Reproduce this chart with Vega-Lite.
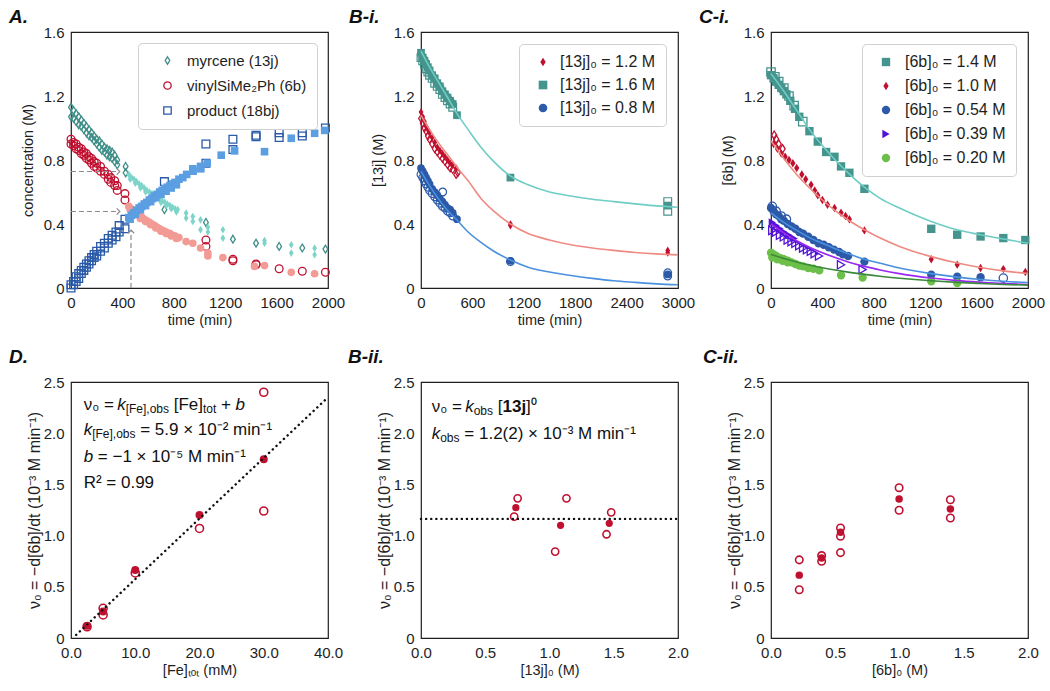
{
"$schema": "https://vega.github.io/schema/vega-lite/v6.json",
"background": "white",
"padding": {"left": 8, "top": 7, "right": 2, "bottom": 2},
"config": {
  "font": "Liberation Sans",
  "view": {"stroke": "#1e1e1e", "strokeWidth": 1.2},
  "axis": {"domain": false, "grid": false, "ticks": true, "tickSize": 0, "tickColor": "#1e1e1e", "tickWidth": 1, "labelFont": "Liberation Sans", "labelFontSize": 15, "labelColor": "#1e1e1e", "labelPadding": 7, "labelOverlap": false, "labelFlush": false, "labelBound": false, "titleFont": "Liberation Sans", "titleFontSize": 14.5, "titleFontWeight": "normal", "titleColor": "#1e1e1e", "titlePadding": 3},
  "title": {"font": "Liberation Sans", "fontSize": 19, "fontWeight": "bold", "fontStyle": "italic", "anchor": "start", "frame": "group", "color": "#111111"}
},
"datasets": {
  "aOpen": [
    {"t":0,"c":1.13,"s":"m"},{"t":0,"c":1.07,"s":"m"},{"t":20,"c":1.11,"s":"m"},{"t":20,"c":1.06,"s":"m"},{"t":40,"c":1.09,"s":"m"},{"t":40,"c":1.04,"s":"m"},{"t":60,"c":1.07,"s":"m"},{"t":60,"c":1.02,"s":"m"},{"t":80,"c":1.05,"s":"m"},{"t":80,"c":1.01,"s":"m"},{"t":100,"c":1.03,"s":"m"},{"t":100,"c":0.99,"s":"m"},{"t":120,"c":1.01,"s":"m"},{"t":120,"c":0.97,"s":"m"},{"t":140,"c":0.99,"s":"m"},{"t":140,"c":0.95,"s":"m"},{"t":160,"c":0.97,"s":"m"},{"t":160,"c":0.94,"s":"m"},{"t":180,"c":0.95,"s":"m"},{"t":180,"c":0.92,"s":"m"},{"t":200,"c":0.93,"s":"m"},{"t":200,"c":0.9,"s":"m"},{"t":220,"c":0.92,"s":"m"},{"t":220,"c":0.88,"s":"m"},{"t":240,"c":0.9,"s":"m"},{"t":240,"c":0.86,"s":"m"},{"t":260,"c":0.88,"s":"m"},{"t":260,"c":0.85,"s":"m"},{"t":280,"c":0.87,"s":"m"},{"t":280,"c":0.83,"s":"m"},{"t":300,"c":0.86,"s":"m"},{"t":300,"c":0.82,"s":"m"},{"t":320,"c":0.85,"s":"m"},{"t":320,"c":0.81,"s":"m"},{"t":340,"c":0.83,"s":"m"},{"t":340,"c":0.79,"s":"m"},{"t":360,"c":0.8,"s":"m"},{"t":360,"c":0.77,"s":"m"},{"t":425,"c":0.76,"s":"m"},{"t":425,"c":0.72,"s":"m"},{"t":727,"c":0.49,"s":"m"},{"t":1050,"c":0.41,"s":"m"},{"t":1260,"c":0.305,"s":"m"},{"t":1440,"c":0.28,"s":"m"},{"t":1620,"c":0.26,"s":"m"},{"t":1800,"c":0.25,"s":"m"},{"t":1980,"c":0.243,"s":"m"},
    {"t":0,"c":0.93,"s":"v"},{"t":0,"c":0.9,"s":"v"},{"t":20,"c":0.91,"s":"v"},{"t":20,"c":0.89,"s":"v"},{"t":40,"c":0.9,"s":"v"},{"t":40,"c":0.87,"s":"v"},{"t":60,"c":0.88,"s":"v"},{"t":60,"c":0.86,"s":"v"},{"t":80,"c":0.87,"s":"v"},{"t":80,"c":0.84,"s":"v"},{"t":100,"c":0.85,"s":"v"},{"t":100,"c":0.83,"s":"v"},{"t":120,"c":0.84,"s":"v"},{"t":120,"c":0.81,"s":"v"},{"t":140,"c":0.82,"s":"v"},{"t":140,"c":0.8,"s":"v"},{"t":160,"c":0.81,"s":"v"},{"t":160,"c":0.78,"s":"v"},{"t":180,"c":0.79,"s":"v"},{"t":180,"c":0.76,"s":"v"},{"t":200,"c":0.78,"s":"v"},{"t":200,"c":0.75,"s":"v"},{"t":230,"c":0.76,"s":"v"},{"t":230,"c":0.73,"s":"v"},{"t":260,"c":0.73,"s":"v"},{"t":260,"c":0.71,"s":"v"},{"t":290,"c":0.71,"s":"v"},{"t":290,"c":0.68,"s":"v"},{"t":310,"c":0.69,"s":"v"},{"t":310,"c":0.66,"s":"v"},{"t":340,"c":0.67,"s":"v"},{"t":340,"c":0.64,"s":"v"},{"t":360,"c":0.64,"s":"v"},{"t":360,"c":0.61,"s":"v"},{"t":420,"c":0.59,"s":"v"},{"t":420,"c":0.55,"s":"v"},{"t":1050,"c":0.3,"s":"v"},{"t":1050,"c":0.26,"s":"v"},{"t":1260,"c":0.18,"s":"v"},{"t":1260,"c":0.17,"s":"v"},{"t":1440,"c":0.15,"s":"v"},{"t":1440,"c":0.145,"s":"v"},{"t":1620,"c":0.12,"s":"v"},{"t":1800,"c":0.105,"s":"v"},{"t":1980,"c":0.098,"s":"v"},
    {"t":0,"c":0.02,"s":"p"},{"t":0,"c":0.0,"s":"p"},{"t":20,"c":0.04,"s":"p"},{"t":20,"c":0.02,"s":"p"},{"t":40,"c":0.07,"s":"p"},{"t":40,"c":0.04,"s":"p"},{"t":60,"c":0.09,"s":"p"},{"t":60,"c":0.06,"s":"p"},{"t":80,"c":0.11,"s":"p"},{"t":80,"c":0.09,"s":"p"},{"t":100,"c":0.13,"s":"p"},{"t":100,"c":0.11,"s":"p"},{"t":120,"c":0.15,"s":"p"},{"t":120,"c":0.13,"s":"p"},{"t":140,"c":0.17,"s":"p"},{"t":140,"c":0.15,"s":"p"},{"t":160,"c":0.19,"s":"p"},{"t":160,"c":0.17,"s":"p"},{"t":180,"c":0.21,"s":"p"},{"t":180,"c":0.19,"s":"p"},{"t":200,"c":0.23,"s":"p"},{"t":200,"c":0.2,"s":"p"},{"t":230,"c":0.26,"s":"p"},{"t":230,"c":0.23,"s":"p"},{"t":260,"c":0.28,"s":"p"},{"t":260,"c":0.25,"s":"p"},{"t":290,"c":0.31,"s":"p"},{"t":290,"c":0.28,"s":"p"},{"t":320,"c":0.33,"s":"p"},{"t":320,"c":0.3,"s":"p"},{"t":350,"c":0.35,"s":"p"},{"t":350,"c":0.32,"s":"p"},{"t":375,"c":0.39,"s":"p"},{"t":375,"c":0.35,"s":"p"},{"t":420,"c":0.43,"s":"p"},{"t":420,"c":0.37,"s":"p"},{"t":727,"c":0.665,"s":"p"},{"t":1050,"c":0.9,"s":"p"},{"t":1050,"c":0.78,"s":"p"},{"t":1260,"c":0.93,"s":"p"},{"t":1260,"c":0.865,"s":"p"},{"t":1440,"c":0.955,"s":"p"},{"t":1440,"c":0.945,"s":"p"},{"t":1620,"c":0.97,"s":"p"},{"t":1620,"c":0.94,"s":"p"},{"t":1800,"c":0.97,"s":"p"},{"t":1800,"c":0.95,"s":"p"},{"t":1980,"c":1.0,"s":"p"}
  ],
  "aFill": [
    {"t":450,"c":0.71,"s":"m"},{"t":470,"c":0.69,"s":"m"},{"t":490,"c":0.68,"s":"m"},{"t":510,"c":0.665,"s":"m"},{"t":530,"c":0.65,"s":"m"},{"t":550,"c":0.64,"s":"m"},{"t":570,"c":0.625,"s":"m"},{"t":590,"c":0.61,"s":"m"},{"t":610,"c":0.6,"s":"m"},{"t":630,"c":0.59,"s":"m"},{"t":650,"c":0.575,"s":"m"},{"t":670,"c":0.565,"s":"m"},{"t":690,"c":0.555,"s":"m"},{"t":710,"c":0.545,"s":"m"},{"t":730,"c":0.535,"s":"m"},{"t":750,"c":0.525,"s":"m"},{"t":770,"c":0.515,"s":"m"},{"t":790,"c":0.505,"s":"m"},{"t":810,"c":0.495,"s":"m"},{"t":830,"c":0.49,"s":"m"},{"t":460,"c":0.68,"s":"m"},{"t":500,"c":0.655,"s":"m"},{"t":540,"c":0.625,"s":"m"},{"t":580,"c":0.6,"s":"m"},{"t":620,"c":0.575,"s":"m"},{"t":660,"c":0.555,"s":"m"},{"t":700,"c":0.535,"s":"m"},{"t":740,"c":0.515,"s":"m"},{"t":780,"c":0.495,"s":"m"},{"t":820,"c":0.475,"s":"m"},{"t":896,"c":0.468,"s":"m"},{"t":896,"c":0.437,"s":"m"},{"t":948,"c":0.447,"s":"m"},{"t":948,"c":0.416,"s":"m"},{"t":1008,"c":0.426,"s":"m"},{"t":1008,"c":0.364,"s":"m"},{"t":1065,"c":0.38,"s":"m"},{"t":1065,"c":0.35,"s":"m"},{"t":1182,"c":0.364,"s":"m"},{"t":1182,"c":0.312,"s":"m"},{"t":1506,"c":0.297,"s":"m"},{"t":1506,"c":0.28,"s":"m"},{"t":1714,"c":0.27,"s":"m"},{"t":1714,"c":0.218,"s":"m"},{"t":1896,"c":0.249,"s":"m"},{"t":1896,"c":0.208,"s":"m"},
    {"t":450,"c":0.51,"s":"v"},{"t":470,"c":0.495,"s":"v"},{"t":490,"c":0.48,"s":"v"},{"t":510,"c":0.465,"s":"v"},{"t":530,"c":0.455,"s":"v"},{"t":550,"c":0.445,"s":"v"},{"t":570,"c":0.43,"s":"v"},{"t":590,"c":0.42,"s":"v"},{"t":610,"c":0.41,"s":"v"},{"t":630,"c":0.4,"s":"v"},{"t":650,"c":0.39,"s":"v"},{"t":670,"c":0.38,"s":"v"},{"t":690,"c":0.37,"s":"v"},{"t":710,"c":0.36,"s":"v"},{"t":730,"c":0.355,"s":"v"},{"t":750,"c":0.345,"s":"v"},{"t":770,"c":0.34,"s":"v"},{"t":790,"c":0.33,"s":"v"},{"t":810,"c":0.325,"s":"v"},{"t":840,"c":0.315,"s":"v"},{"t":460,"c":0.49,"s":"v"},{"t":500,"c":0.46,"s":"v"},{"t":540,"c":0.435,"s":"v"},{"t":580,"c":0.415,"s":"v"},{"t":620,"c":0.395,"s":"v"},{"t":660,"c":0.375,"s":"v"},{"t":700,"c":0.355,"s":"v"},{"t":740,"c":0.34,"s":"v"},{"t":780,"c":0.325,"s":"v"},{"t":820,"c":0.31,"s":"v"},{"t":896,"c":0.29,"s":"v"},{"t":948,"c":0.28,"s":"v"},{"t":1008,"c":0.25,"s":"v"},{"t":1065,"c":0.218,"s":"v"},{"t":1065,"c":0.2,"s":"v"},{"t":1182,"c":0.19,"s":"v"},{"t":1428,"c":0.135,"s":"v"},{"t":1506,"c":0.14,"s":"v"},{"t":1714,"c":0.098,"s":"v"},{"t":1896,"c":0.089,"s":"v"},
    {"t":450,"c":0.44,"s":"p"},{"t":470,"c":0.455,"s":"p"},{"t":490,"c":0.47,"s":"p"},{"t":510,"c":0.485,"s":"p"},{"t":530,"c":0.5,"s":"p"},{"t":550,"c":0.51,"s":"p"},{"t":570,"c":0.525,"s":"p"},{"t":590,"c":0.535,"s":"p"},{"t":610,"c":0.55,"s":"p"},{"t":630,"c":0.56,"s":"p"},{"t":650,"c":0.575,"s":"p"},{"t":670,"c":0.585,"s":"p"},{"t":690,"c":0.6,"s":"p"},{"t":710,"c":0.61,"s":"p"},{"t":730,"c":0.62,"s":"p"},{"t":750,"c":0.63,"s":"p"},{"t":770,"c":0.64,"s":"p"},{"t":790,"c":0.65,"s":"p"},{"t":810,"c":0.66,"s":"p"},{"t":840,"c":0.68,"s":"p"},{"t":870,"c":0.69,"s":"p"},{"t":900,"c":0.71,"s":"p"},{"t":948,"c":0.745,"s":"p"},{"t":1008,"c":0.76,"s":"p"},{"t":1060,"c":0.78,"s":"p"},{"t":1169,"c":0.83,"s":"p"},{"t":1273,"c":0.857,"s":"p"},{"t":1506,"c":0.852,"s":"p"},{"t":1714,"c":0.936,"s":"p"},{"t":1896,"c":0.967,"s":"p"},{"t":1975,"c":0.985,"s":"p"},{"t":460,"c":0.43,"s":"p"},{"t":500,"c":0.46,"s":"p"},{"t":540,"c":0.49,"s":"p"},{"t":580,"c":0.515,"s":"p"},{"t":620,"c":0.54,"s":"p"},{"t":660,"c":0.565,"s":"p"},{"t":700,"c":0.585,"s":"p"},{"t":740,"c":0.605,"s":"p"},{"t":780,"c":0.625,"s":"p"},{"t":820,"c":0.645,"s":"p"},{"t":950,"c":0.73,"s":"p"},{"t":1010,"c":0.745,"s":"p"}
  ],
  "arrows": [
    {"x":0,"x2":380,"y":0.728,"y2":0.728},
    {"x":0,"x2":380,"y":0.478,"y2":0.478},
    {"x":467,"x2":467,"y":0,"y2":0.362}
  ],
  "biFill": [
    {"t":0,"c":1.47,"s":"1.6"},{"t":20,"c":1.44,"s":"1.6"},{"t":40,"c":1.42,"s":"1.6"},{"t":60,"c":1.4,"s":"1.6"},{"t":80,"c":1.38,"s":"1.6"},{"t":100,"c":1.36,"s":"1.6"},{"t":130,"c":1.33,"s":"1.6"},{"t":160,"c":1.31,"s":"1.6"},{"t":190,"c":1.28,"s":"1.6"},{"t":220,"c":1.26,"s":"1.6"},{"t":250,"c":1.23,"s":"1.6"},{"t":280,"c":1.21,"s":"1.6"},{"t":310,"c":1.19,"s":"1.6"},{"t":340,"c":1.17,"s":"1.6"},{"t":370,"c":1.15,"s":"1.6"},{"t":420,"c":1.08,"s":"1.6"},{"t":1044,"c":0.69,"s":"1.6"},{"t":2880,"c":0.515,"s":"1.6"},
    {"t":0,"c":1.1,"s":"1.2"},{"t":20,"c":1.07,"s":"1.2"},{"t":40,"c":1.04,"s":"1.2"},{"t":60,"c":1.01,"s":"1.2"},{"t":80,"c":0.99,"s":"1.2"},{"t":100,"c":0.97,"s":"1.2"},{"t":130,"c":0.94,"s":"1.2"},{"t":160,"c":0.91,"s":"1.2"},{"t":190,"c":0.88,"s":"1.2"},{"t":220,"c":0.86,"s":"1.2"},{"t":250,"c":0.84,"s":"1.2"},{"t":280,"c":0.82,"s":"1.2"},{"t":310,"c":0.8,"s":"1.2"},{"t":340,"c":0.78,"s":"1.2"},{"t":370,"c":0.77,"s":"1.2"},{"t":410,"c":0.75,"s":"1.2"},{"t":1044,"c":0.4,"s":"1.2"},{"t":1044,"c":0.39,"s":"1.2"},{"t":2880,"c":0.235,"s":"1.2"},{"t":2880,"c":0.22,"s":"1.2"},
    {"t":0,"c":0.75,"s":"0.8"},{"t":20,"c":0.73,"s":"0.8"},{"t":40,"c":0.71,"s":"0.8"},{"t":60,"c":0.69,"s":"0.8"},{"t":80,"c":0.67,"s":"0.8"},{"t":100,"c":0.65,"s":"0.8"},{"t":130,"c":0.62,"s":"0.8"},{"t":160,"c":0.6,"s":"0.8"},{"t":190,"c":0.58,"s":"0.8"},{"t":220,"c":0.56,"s":"0.8"},{"t":250,"c":0.54,"s":"0.8"},{"t":280,"c":0.52,"s":"0.8"},{"t":310,"c":0.5,"s":"0.8"},{"t":340,"c":0.49,"s":"0.8"},{"t":370,"c":0.47,"s":"0.8"},{"t":420,"c":0.43,"s":"0.8"},{"t":1044,"c":0.17,"s":"0.8"},{"t":2880,"c":0.085,"s":"0.8"}
  ],
  "biOpen": [
    {"t":0,"c":1.44,"s":"1.6"},{"t":20,"c":1.42,"s":"1.6"},{"t":40,"c":1.4,"s":"1.6"},{"t":60,"c":1.37,"s":"1.6"},{"t":80,"c":1.35,"s":"1.6"},{"t":100,"c":1.33,"s":"1.6"},{"t":130,"c":1.31,"s":"1.6"},{"t":160,"c":1.28,"s":"1.6"},{"t":190,"c":1.26,"s":"1.6"},{"t":220,"c":1.24,"s":"1.6"},{"t":250,"c":1.21,"s":"1.6"},{"t":280,"c":1.19,"s":"1.6"},{"t":310,"c":1.17,"s":"1.6"},{"t":340,"c":1.15,"s":"1.6"},{"t":370,"c":1.13,"s":"1.6"},{"t":2880,"c":0.54,"s":"1.6"},{"t":2880,"c":0.48,"s":"1.6"},
    {"t":0,"c":1.06,"s":"1.2"},{"t":20,"c":1.03,"s":"1.2"},{"t":40,"c":1.0,"s":"1.2"},{"t":60,"c":0.98,"s":"1.2"},{"t":80,"c":0.95,"s":"1.2"},{"t":100,"c":0.93,"s":"1.2"},{"t":130,"c":0.9,"s":"1.2"},{"t":160,"c":0.87,"s":"1.2"},{"t":190,"c":0.85,"s":"1.2"},{"t":220,"c":0.83,"s":"1.2"},{"t":250,"c":0.81,"s":"1.2"},{"t":280,"c":0.79,"s":"1.2"},{"t":310,"c":0.77,"s":"1.2"},{"t":340,"c":0.75,"s":"1.2"},{"t":370,"c":0.74,"s":"1.2"},{"t":410,"c":0.71,"s":"1.2"},{"t":430,"c":0.72,"s":"1.2"},
    {"t":0,"c":0.71,"s":"0.8"},{"t":20,"c":0.69,"s":"0.8"},{"t":40,"c":0.67,"s":"0.8"},{"t":60,"c":0.65,"s":"0.8"},{"t":80,"c":0.63,"s":"0.8"},{"t":100,"c":0.61,"s":"0.8"},{"t":130,"c":0.59,"s":"0.8"},{"t":160,"c":0.57,"s":"0.8"},{"t":190,"c":0.55,"s":"0.8"},{"t":220,"c":0.53,"s":"0.8"},{"t":250,"c":0.51,"s":"0.8"},{"t":253,"c":0.6,"s":"0.8"},{"t":280,"c":0.5,"s":"0.8"},{"t":310,"c":0.48,"s":"0.8"},{"t":340,"c":0.47,"s":"0.8"},{"t":370,"c":0.45,"s":"0.8"},{"t":1044,"c":0.165,"s":"0.8"},{"t":2880,"c":0.095,"s":"0.8"},{"t":2880,"c":0.075,"s":"0.8"}
  ],
  "biFit": [
    {"t":0,"c":1.48,"s":"1.6"},{"t":100,"c":1.38,"s":"1.6"},{"t":200,"c":1.29,"s":"1.6"},{"t":300,"c":1.2,"s":"1.6"},{"t":420,"c":1.09,"s":"1.6"},{"t":550,"c":0.99,"s":"1.6"},{"t":700,"c":0.88,"s":"1.6"},{"t":850,"c":0.79,"s":"1.6"},{"t":1044,"c":0.7,"s":"1.6"},{"t":1250,"c":0.645,"s":"1.6"},{"t":1500,"c":0.6,"s":"1.6"},{"t":1750,"c":0.575,"s":"1.6"},{"t":2000,"c":0.555,"s":"1.6"},{"t":2250,"c":0.54,"s":"1.6"},{"t":2500,"c":0.526,"s":"1.6"},{"t":2750,"c":0.513,"s":"1.6"},{"t":3000,"c":0.505,"s":"1.6"},
    {"t":0,"c":1.08,"s":"1.2"},{"t":100,"c":0.99,"s":"1.2"},{"t":200,"c":0.91,"s":"1.2"},{"t":300,"c":0.84,"s":"1.2"},{"t":420,"c":0.755,"s":"1.2"},{"t":550,"c":0.67,"s":"1.2"},{"t":700,"c":0.56,"s":"1.2"},{"t":850,"c":0.48,"s":"1.2"},{"t":1044,"c":0.4,"s":"1.2"},{"t":1250,"c":0.34,"s":"1.2"},{"t":1500,"c":0.3,"s":"1.2"},{"t":1750,"c":0.27,"s":"1.2"},{"t":2000,"c":0.25,"s":"1.2"},{"t":2250,"c":0.235,"s":"1.2"},{"t":2500,"c":0.222,"s":"1.2"},{"t":2750,"c":0.213,"s":"1.2"},{"t":3000,"c":0.207,"s":"1.2"},
    {"t":0,"c":0.73,"s":"0.8"},{"t":100,"c":0.64,"s":"0.8"},{"t":200,"c":0.56,"s":"0.8"},{"t":300,"c":0.49,"s":"0.8"},{"t":420,"c":0.425,"s":"0.8"},{"t":550,"c":0.35,"s":"0.8"},{"t":700,"c":0.285,"s":"0.8"},{"t":850,"c":0.23,"s":"0.8"},{"t":1044,"c":0.175,"s":"0.8"},{"t":1250,"c":0.13,"s":"0.8"},{"t":1500,"c":0.1,"s":"0.8"},{"t":1750,"c":0.078,"s":"0.8"},{"t":2000,"c":0.06,"s":"0.8"},{"t":2250,"c":0.045,"s":"0.8"},{"t":2500,"c":0.035,"s":"0.8"},{"t":2750,"c":0.026,"s":"0.8"},{"t":3000,"c":0.02,"s":"0.8"}
  ],
  "ciFill": [
    {"t":0,"c":1.33,"s":"1.4"},{"t":20,"c":1.31,"s":"1.4"},{"t":40,"c":1.29,"s":"1.4"},{"t":60,"c":1.27,"s":"1.4"},{"t":80,"c":1.25,"s":"1.4"},{"t":100,"c":1.23,"s":"1.4"},{"t":120,"c":1.21,"s":"1.4"},{"t":150,"c":1.17,"s":"1.4"},{"t":187,"c":1.12,"s":"1.4"},{"t":220,"c":1.07,"s":"1.4"},{"t":299,"c":0.98,"s":"1.4"},{"t":364,"c":0.915,"s":"1.4"},{"t":429,"c":0.85,"s":"1.4"},{"t":494,"c":0.82,"s":"1.4"},{"t":545,"c":0.76,"s":"1.4"},{"t":610,"c":0.72,"s":"1.4"},{"t":727,"c":0.62,"s":"1.4"},{"t":1247,"c":0.37,"s":"1.4"},{"t":1449,"c":0.333,"s":"1.4"},{"t":1631,"c":0.322,"s":"1.4"},{"t":1808,"c":0.312,"s":"1.4"},{"t":1979,"c":0.3,"s":"1.4"},
    {"t":20,"c":0.9,"s":"1.0"},{"t":50,"c":0.87,"s":"1.0"},{"t":80,"c":0.84,"s":"1.0"},{"t":110,"c":0.82,"s":"1.0"},{"t":140,"c":0.8,"s":"1.0"},{"t":170,"c":0.78,"s":"1.0"},{"t":200,"c":0.75,"s":"1.0"},{"t":240,"c":0.71,"s":"1.0"},{"t":270,"c":0.68,"s":"1.0"},{"t":312,"c":0.645,"s":"1.0"},{"t":340,"c":0.61,"s":"1.0"},{"t":364,"c":0.58,"s":"1.0"},{"t":400,"c":0.55,"s":"1.0"},{"t":440,"c":0.52,"s":"1.0"},{"t":494,"c":0.5,"s":"1.0"},{"t":545,"c":0.47,"s":"1.0"},{"t":580,"c":0.45,"s":"1.0"},{"t":610,"c":0.43,"s":"1.0"},{"t":727,"c":0.36,"s":"1.0"},{"t":1247,"c":0.18,"s":"1.0"},{"t":1449,"c":0.146,"s":"1.0"},{"t":1631,"c":0.125,"s":"1.0"},{"t":1808,"c":0.118,"s":"1.0"},{"t":1979,"c":0.1,"s":"1.0"},
    {"t":0,"c":0.5,"s":"0.54"},{"t":20,"c":0.48,"s":"0.54"},{"t":40,"c":0.46,"s":"0.54"},{"t":60,"c":0.45,"s":"0.54"},{"t":80,"c":0.43,"s":"0.54"},{"t":100,"c":0.42,"s":"0.54"},{"t":130,"c":0.4,"s":"0.54"},{"t":160,"c":0.385,"s":"0.54"},{"t":190,"c":0.37,"s":"0.54"},{"t":220,"c":0.35,"s":"0.54"},{"t":250,"c":0.34,"s":"0.54"},{"t":290,"c":0.32,"s":"0.54"},{"t":330,"c":0.3,"s":"0.54"},{"t":370,"c":0.28,"s":"0.54"},{"t":410,"c":0.27,"s":"0.54"},{"t":450,"c":0.255,"s":"0.54"},{"t":490,"c":0.24,"s":"0.54"},{"t":530,"c":0.225,"s":"0.54"},{"t":560,"c":0.21,"s":"0.54"},{"t":600,"c":0.2,"s":"0.54"},{"t":727,"c":0.165,"s":"0.54"},{"t":1247,"c":0.083,"s":"0.54"},{"t":1449,"c":0.07,"s":"0.54"},{"t":1631,"c":0.067,"s":"0.54"},
    {"t":10,"c":0.41,"s":"0.39"},{"t":40,"c":0.39,"s":"0.39"},{"t":70,"c":0.37,"s":"0.39"},{"t":100,"c":0.35,"s":"0.39"},{"t":140,"c":0.33,"s":"0.39"},{"t":180,"c":0.31,"s":"0.39"},
    {"t":0,"c":0.22,"s":"0.20"},{"t":20,"c":0.21,"s":"0.20"},{"t":40,"c":0.2,"s":"0.20"},{"t":60,"c":0.19,"s":"0.20"},{"t":80,"c":0.185,"s":"0.20"},{"t":100,"c":0.18,"s":"0.20"},{"t":130,"c":0.17,"s":"0.20"},{"t":160,"c":0.16,"s":"0.20"},{"t":190,"c":0.15,"s":"0.20"},{"t":220,"c":0.14,"s":"0.20"},{"t":250,"c":0.135,"s":"0.20"},{"t":290,"c":0.125,"s":"0.20"},{"t":330,"c":0.12,"s":"0.20"},{"t":376,"c":0.11,"s":"0.20"},{"t":545,"c":0.08,"s":"0.20"},{"t":713,"c":0.065,"s":"0.20"},{"t":1247,"c":0.042,"s":"0.20"},{"t":1449,"c":0.031,"s":"0.20"},{"t":10,"c":0.19,"s":"0.20"},{"t":50,"c":0.18,"s":"0.20"},{"t":90,"c":0.17,"s":"0.20"},{"t":130,"c":0.16,"s":"0.20"}
  ],
  "ciOpen": [
    {"t":0,"c":1.35,"s":"1.4"},{"t":30,"c":1.32,"s":"1.4"},{"t":60,"c":1.29,"s":"1.4"},{"t":100,"c":1.25,"s":"1.4"},{"t":140,"c":1.2,"s":"1.4"},{"t":180,"c":1.14,"s":"1.4"},{"t":247,"c":1.04,"s":"1.4"},
    {"t":25,"c":0.955,"s":"1.0"},{"t":40,"c":0.93,"s":"1.0"},{"t":60,"c":0.9,"s":"1.0"},{"t":90,"c":0.87,"s":"1.0"},
    {"t":10,"c":0.51,"s":"0.54"},{"t":40,"c":0.48,"s":"0.54"},{"t":80,"c":0.45,"s":"0.54"},{"t":120,"c":0.43,"s":"0.54"},{"t":1808,"c":0.062,"s":"0.54"},
    {"t":10,"c":0.36,"s":"0.39"},{"t":40,"c":0.35,"s":"0.39"},{"t":70,"c":0.33,"s":"0.39"},{"t":100,"c":0.32,"s":"0.39"},{"t":130,"c":0.3,"s":"0.39"},{"t":160,"c":0.29,"s":"0.39"},{"t":190,"c":0.28,"s":"0.39"},{"t":220,"c":0.265,"s":"0.39"},{"t":250,"c":0.25,"s":"0.39"},{"t":280,"c":0.24,"s":"0.39"},{"t":310,"c":0.23,"s":"0.39"},{"t":340,"c":0.215,"s":"0.39"},{"t":374,"c":0.2,"s":"0.39"},{"t":545,"c":0.145,"s":"0.39"},{"t":713,"c":0.115,"s":"0.39"}
  ],
  "ciFit": [
    {"t":0,"c":1.34,"s":"1.4"},{"t":100,"c":1.23,"s":"1.4"},{"t":200,"c":1.11,"s":"1.4"},{"t":300,"c":0.99,"s":"1.4"},{"t":400,"c":0.89,"s":"1.4"},{"t":500,"c":0.8,"s":"1.4"},{"t":600,"c":0.72,"s":"1.4"},{"t":727,"c":0.63,"s":"1.4"},{"t":850,"c":0.56,"s":"1.4"},{"t":1000,"c":0.5,"s":"1.4"},{"t":1247,"c":0.416,"s":"1.4"},{"t":1449,"c":0.364,"s":"1.4"},{"t":1631,"c":0.333,"s":"1.4"},{"t":1808,"c":0.306,"s":"1.4"},{"t":2000,"c":0.28,"s":"1.4"},
    {"t":0,"c":0.92,"s":"1.0"},{"t":100,"c":0.81,"s":"1.0"},{"t":200,"c":0.71,"s":"1.0"},{"t":300,"c":0.625,"s":"1.0"},{"t":400,"c":0.55,"s":"1.0"},{"t":500,"c":0.483,"s":"1.0"},{"t":600,"c":0.425,"s":"1.0"},{"t":727,"c":0.364,"s":"1.0"},{"t":850,"c":0.312,"s":"1.0"},{"t":1000,"c":0.26,"s":"1.0"},{"t":1247,"c":0.196,"s":"1.0"},{"t":1449,"c":0.156,"s":"1.0"},{"t":1631,"c":0.128,"s":"1.0"},{"t":1808,"c":0.107,"s":"1.0"},{"t":2000,"c":0.09,"s":"1.0"},
    {"t":0,"c":0.47,"s":"0.54"},{"t":100,"c":0.41,"s":"0.54"},{"t":200,"c":0.36,"s":"0.54"},{"t":300,"c":0.315,"s":"0.54"},{"t":400,"c":0.28,"s":"0.54"},{"t":500,"c":0.245,"s":"0.54"},{"t":600,"c":0.215,"s":"0.54"},{"t":727,"c":0.18,"s":"0.54"},{"t":850,"c":0.155,"s":"0.54"},{"t":1000,"c":0.125,"s":"0.54"},{"t":1247,"c":0.09,"s":"0.54"},{"t":1449,"c":0.068,"s":"0.54"},{"t":1631,"c":0.053,"s":"0.54"},{"t":1808,"c":0.042,"s":"0.54"},{"t":2000,"c":0.034,"s":"0.54"},
    {"t":0,"c":0.4,"s":"0.39"},{"t":100,"c":0.345,"s":"0.39"},{"t":200,"c":0.295,"s":"0.39"},{"t":300,"c":0.255,"s":"0.39"},{"t":400,"c":0.22,"s":"0.39"},{"t":500,"c":0.19,"s":"0.39"},{"t":600,"c":0.163,"s":"0.39"},{"t":727,"c":0.135,"s":"0.39"},{"t":850,"c":0.113,"s":"0.39"},{"t":1000,"c":0.09,"s":"0.39"},{"t":1247,"c":0.062,"s":"0.39"},{"t":1449,"c":0.046,"s":"0.39"},{"t":1631,"c":0.036,"s":"0.39"},{"t":1808,"c":0.028,"s":"0.39"},{"t":2000,"c":0.022,"s":"0.39"},
    {"t":0,"c":0.21,"s":"0.20"},{"t":100,"c":0.185,"s":"0.20"},{"t":200,"c":0.163,"s":"0.20"},{"t":300,"c":0.144,"s":"0.20"},{"t":400,"c":0.127,"s":"0.20"},{"t":500,"c":0.112,"s":"0.20"},{"t":600,"c":0.099,"s":"0.20"},{"t":727,"c":0.085,"s":"0.20"},{"t":850,"c":0.073,"s":"0.20"},{"t":1000,"c":0.061,"s":"0.20"},{"t":1247,"c":0.045,"s":"0.20"},{"t":1449,"c":0.035,"s":"0.20"},{"t":1631,"c":0.028,"s":"0.20"},{"t":1808,"c":0.022,"s":"0.20"},{"t":2000,"c":0.018,"s":"0.20"}
  ],
  "dFill": [{"x":2.5,"v":0.12},{"x":5,"v":0.26},{"x":10,"v":0.665},{"x":20,"v":1.2},{"x":30,"v":1.745}],
  "dOpen": [{"x":2.5,"v":0.11},{"x":5,"v":0.29},{"x":5,"v":0.225},{"x":10,"v":0.635},{"x":20,"v":1.07},{"x":30,"v":2.4},{"x":30,"v":1.24}],
  "dFit": [{"x":0.8,"x2":40,"v":0.03,"v2":2.35}],
  "dTxt": [{"x":1.97,"v":2.275,"txt":"ν₀ ="},{"x":15.98,"v":2.275,"txt":"[Fe]"},{"x":23.34,"v":2.275,"txt":"+"},{"x":10.76,"v":2.03,"txt":"= 5.9 × 10⁻² min⁻¹"},{"x":4.18,"v":1.77,"txt":"= −1 × 10⁻⁵ M min⁻¹"},{"x":1.97,"v":1.51,"txt":"R² = 0.99"}],
  "dTxtI": [{"x":7.18,"v":2.275,"txt":"k"},{"x":25.61,"v":2.275,"txt":"b"},{"x":1.97,"v":2.03,"txt":"k"},{"x":1.97,"v":1.77,"txt":"b"}],
  "dTxtS": [{"x":8.51,"v":2.235,"txt":"[Fe],obs"},{"x":20.54,"v":2.235,"txt":"tot"},{"x":3.29,"v":1.99,"txt":"[Fe],obs"}],
  "b2Fill": [{"x":0.738,"v":1.273},{"x":1.086,"v":1.1},{"x":1.465,"v":1.12}],
  "b2Open": [{"x":0.752,"v":1.364},{"x":0.725,"v":1.185},{"x":1.044,"v":0.844},{"x":1.132,"v":1.364},{"x":1.48,"v":1.227},{"x":1.444,"v":1.013}],
  "b2Fit": [{"x":0,"x2":2,"v":1.163,"v2":1.163}],
  "b2Txt": [{"x":0.083,"v":2.255,"txt":"ν₀ ="},{"x":0.597,"v":2.255,"txt":"["},{"x":0.818,"v":2.255,"txt":"]⁰"},{"x":0.337,"v":1.996,"txt":"= 1.2(2) × 10⁻³ M min⁻¹"}],
  "b2TxtI": [{"x":0.344,"v":2.255,"txt":"k"},{"x":0.083,"v":1.996,"txt":"k"}],
  "b2TxtS": [{"x":0.41,"v":2.215,"txt":"obs"},{"x":0.149,"v":1.956,"txt":"obs"}],
  "b2TxtB": [{"x":0.634,"v":2.255,"txt":"13j"}],
  "c2Fill": [{"x":0.22,"v":0.614},{"x":0.394,"v":0.782},{"x":0.541,"v":1.032},{"x":0.997,"v":1.357},{"x":1.396,"v":1.26}],
  "c2Open": [{"x":0.22,"v":0.763},{"x":0.22,"v":0.471},{"x":0.394,"v":0.805},{"x":0.394,"v":0.75},{"x":0.541,"v":1.075},{"x":0.541,"v":0.994},{"x":0.541,"v":0.834},{"x":0.997,"v":1.468},{"x":0.997,"v":1.247},{"x":1.396,"v":1.35},{"x":1.396,"v":1.172}]
},
"columns": 3,
"spacing": {"row": 94, "column": 93},
"bounds": "flush",
"resolve": {"scale": {"fill": "independent", "stroke": "independent", "color": "independent", "shape": "independent"}, "legend": {"fill": "independent", "stroke": "independent", "color": "independent", "shape": "independent"}},
"concat": [
   {
    "width": 257, "height": 256,
    "title": {"text": "A.", "dx": -62, "offset": -2},
    "resolve": {"axis": {"x": "independent", "y": "independent"}, "scale": {"shape": "independent", "stroke": "independent", "fill": "independent"}, "legend": {"shape": "independent", "stroke": "independent", "fill": "independent"}},
    "layer": [
     {
      "data": {"name": "aOpen"},
      "mark": {"type": "point", "filled": false, "strokeWidth": 1.3, "size": 60, "opacity": 1},
      "encoding": {
       "x": {"field": "t", "type": "quantitative", "scale": {"domain": [0, 2000], "nice": false},
             "axis": {"orient": "bottom", "title": "time (min)", "values": [0,100,200,300,400,500,600,700,800,900,1000,1100,1200,1300,1400,1500,1600,1700,1800,1900,2000], "labelExpr": "abs(datum.value/400-round(datum.value/400))<1e-6 ? format(datum.value,'d') : ''", "encode": {"ticks": {"update": {"y2": {"signal": "abs(datum.value/400-round(datum.value/400))<1e-6 ? -5 : -2.5"}}}}}},
       "y": {"field": "c", "type": "quantitative", "scale": {"domain": [0, 1.6], "nice": false},
             "axis": {"orient": "left", "title": "concentration (M)", "titlePadding": 8, "values": [0,0.1,0.2,0.3,0.4,0.5,0.6,0.7,0.8,0.9,1,1.1,1.2,1.3,1.4,1.5,1.6], "labelExpr": "abs(datum.value/0.4-round(datum.value/0.4))<1e-6 ? (datum.value==0 ? '0' : format(datum.value,'.1f')) : ''", "encode": {"ticks": {"update": {"x2": {"signal": "abs(datum.value/0.4-round(datum.value/0.4))<1e-6 ? 5 : 2.5"}}}}}},
       "stroke": {"field": "s", "type": "nominal", "scale": {"domain": ["m","v","p"], "range": ["#3f8f88", "#c0102f", "#2a5aa8"]},
             "legend": {"title": null, "orient": "top-right", "offset": 11, "padding": 10, "rowPadding": 9, "labelFontSize": 15, "labelColor": "#1e1e1e", "symbolSize": 55, "symbolStrokeWidth": 1.3, "symbolOffset": 12, "labelOffset": 12, "strokeColor": "#d0d0d0", "fillColor": "#ffffff", "cornerRadius": 4, "symbolFillColor": "transparent", "labelExpr": "datum.label=='m' ? 'myrcene (13j)' : datum.label=='v' ? 'vinylSiMe₂Ph (6b)' : 'product (18bj)'"}},
       "shape": {"field": "s", "type": "nominal", "scale": {"domain": ["m","v","p"], "range": ["M0,-1L0.62,0L0,1L-0.62,0Z", "circle", "square"]},
             "legend": {"title": null, "orient": "top-right", "offset": 11, "padding": 10, "rowPadding": 9, "labelFontSize": 15, "labelColor": "#1e1e1e", "symbolSize": 55, "symbolStrokeWidth": 1.3, "symbolOffset": 12, "labelOffset": 12, "strokeColor": "#d0d0d0", "fillColor": "#ffffff", "cornerRadius": 4, "symbolFillColor": "transparent", "labelExpr": "datum.label=='m' ? 'myrcene (13j)' : datum.label=='v' ? 'vinylSiMe₂Ph (6b)' : 'product (18bj)'"}}
      }
     },
     {
      "data": {"name": "aFill"},
      "mark": {"type": "point", "filled": true, "size": 58, "opacity": 1},
      "encoding": {
       "x": {"field": "t", "type": "quantitative", "axis": null},
       "y": {"field": "c", "type": "quantitative", "axis": null},
       "fill": {"field": "s", "type": "nominal", "scale": {"domain": ["m","v","p"], "range": ["#7fd4ca", "#f29a94", "#5c9ee2"]}, "legend": null},
       "shape": {"field": "s", "type": "nominal", "scale": {"domain": ["m","v","p"], "range": ["M0,-1L0.62,0L0,1L-0.62,0Z", "circle", "square"]}, "legend": null}
      }
     },
     {
      "data": {"name": "arrows"},
      "mark": {"type": "rule", "color": "#8c8c8c", "strokeWidth": 1.2, "strokeDash": [5, 3]},
      "encoding": {
       "x": {"field": "x", "type": "quantitative",
             "axis": {"orient": "top", "title": null, "labels": false, "values": [0,100,200,300,400,500,600,700,800,900,1000,1100,1200,1300,1400,1500,1600,1700,1800,1900,2000], "encode": {"ticks": {"update": {"y2": {"signal": "abs(datum.value/400-round(datum.value/400))<1e-6 ? 5 : 2.5"}}}}}},
       "x2": {"field": "x2"},
       "y": {"field": "y", "type": "quantitative",
             "axis": {"orient": "right", "title": null, "labels": false, "values": [0,0.1,0.2,0.3,0.4,0.5,0.6,0.7,0.8,0.9,1,1.1,1.2,1.3,1.4,1.5,1.6], "encode": {"ticks": {"update": {"x2": {"signal": "abs(datum.value/0.4-round(datum.value/0.4))<1e-6 ? -5 : -2.5"}}}}}},
       "y2": {"field": "y2"}
      }
     },
     {
      "data": {"name": "arrows"},
      "transform": [{"filter": "datum.y == datum.y2"}],
      "mark": {"type": "point", "shape": "M-1,-1L0,0L-1,1", "filled": false, "size": 40, "stroke": "#8c8c8c", "strokeWidth": 1.2, "opacity": 1},
      "encoding": {
       "x": {"field": "x2", "type": "quantitative", "axis": null},
       "y": {"field": "y2", "type": "quantitative", "axis": null}
      }
     },
     {
      "data": {"name": "arrows"},
      "transform": [{"filter": "datum.x == datum.x2"}],
      "mark": {"type": "point", "shape": "M-1,1L0,0L1,1", "filled": false, "size": 40, "stroke": "#8c8c8c", "strokeWidth": 1.2, "opacity": 1},
      "encoding": {
       "x": {"field": "x2", "type": "quantitative", "axis": null},
       "y": {"field": "y2", "type": "quantitative", "axis": null}
      }
     }
    ]
   },
   {
    "width": 257, "height": 256,
    "title": {"text": "B-i.", "dx": -72, "offset": -2},
    "resolve": {"axis": {"x": "independent", "y": "independent"}},
    "layer": [
     {
      "data": {"name": "biFill"},
      "mark": {"type": "point", "filled": true, "size": 60, "opacity": 1},
      "encoding": {
       "x": {"field": "t", "type": "quantitative", "scale": {"domain": [0, 3000], "nice": false},
             "axis": {"orient": "bottom", "title": "time (min)", "values": [0,150,300,450,600,750,900,1050,1200,1350,1500,1650,1800,1950,2100,2250,2400,2550,2700,2850,3000], "labelExpr": "abs(datum.value/600-round(datum.value/600))<1e-6 ? format(datum.value,'d') : ''", "encode": {"ticks": {"update": {"y2": {"signal": "abs(datum.value/600-round(datum.value/600))<1e-6 ? -5 : -2.5"}}}}}},
       "y": {"field": "c", "type": "quantitative", "scale": {"domain": [0, 1.6], "nice": false},
             "axis": {"orient": "left", "title": "[13j] (M)", "titlePadding": 8, "values": [0,0.1,0.2,0.3,0.4,0.5,0.6,0.7,0.8,0.9,1,1.1,1.2,1.3,1.4,1.5,1.6], "labelExpr": "abs(datum.value/0.4-round(datum.value/0.4))<1e-6 ? (datum.value==0 ? '0' : format(datum.value,'.1f')) : ''", "encode": {"ticks": {"update": {"x2": {"signal": "abs(datum.value/0.4-round(datum.value/0.4))<1e-6 ? 5 : 2.5"}}}}}},
       "fill": {"field": "s", "type": "nominal", "scale": {"domain": ["1.2","1.6","0.8"], "range": ["#c0102f", "#45948d", "#2c5aa8"]},
             "legend": {"title": null, "orient": "top-right", "offset": 12, "padding": 10, "rowPadding": 7, "labelFontSize": 16, "labelColor": "#1e1e1e", "symbolSize": 75, "symbolStrokeWidth": 0, "symbolOffset": 6, "labelOffset": 9, "strokeColor": "#d0d0d0", "fillColor": "#ffffff", "cornerRadius": 4, "labelExpr": "'[13j]₀ = ' + datum.label + ' M'"}},
       "shape": {"field": "s", "type": "nominal", "scale": {"domain": ["1.2","1.6","0.8"], "range": ["M0,-1L0.62,0L0,1L-0.62,0Z", "square", "circle"]},
             "legend": {"title": null, "orient": "top-right", "offset": 12, "padding": 10, "rowPadding": 7, "labelFontSize": 16, "labelColor": "#1e1e1e", "symbolSize": 75, "symbolStrokeWidth": 0, "symbolOffset": 6, "labelOffset": 9, "strokeColor": "#d0d0d0", "fillColor": "#ffffff", "cornerRadius": 4, "labelExpr": "'[13j]₀ = ' + datum.label + ' M'"}}
      }
     },
     {
      "data": {"name": "biOpen"},
      "mark": {"type": "point", "filled": false, "strokeWidth": 1.2, "size": 60, "opacity": 1},
      "encoding": {
       "x": {"field": "t", "type": "quantitative", "axis": null},
       "y": {"field": "c", "type": "quantitative", "axis": null},
       "stroke": {"field": "s", "type": "nominal", "scale": {"domain": ["1.2","1.6","0.8"], "range": ["#c0102f", "#45948d", "#2c5aa8"]}, "legend": null},
       "shape": {"field": "s", "type": "nominal", "legend": null}
      }
     },
     {
      "data": {"name": "biFit"},
      "mark": {"type": "line", "strokeWidth": 1.6, "interpolate": "monotone"},
      "encoding": {
       "x": {"field": "t", "type": "quantitative",
             "axis": {"orient": "top", "title": null, "labels": false, "values": [0,150,300,450,600,750,900,1050,1200,1350,1500,1650,1800,1950,2100,2250,2400,2550,2700,2850,3000], "encode": {"ticks": {"update": {"y2": {"signal": "abs(datum.value/600-round(datum.value/600))<1e-6 ? 5 : 2.5"}}}}}},
       "y": {"field": "c", "type": "quantitative",
             "axis": {"orient": "right", "title": null, "labels": false, "values": [0,0.1,0.2,0.3,0.4,0.5,0.6,0.7,0.8,0.9,1,1.1,1.2,1.3,1.4,1.5,1.6], "encode": {"ticks": {"update": {"x2": {"signal": "abs(datum.value/0.4-round(datum.value/0.4))<1e-6 ? -5 : -2.5"}}}}}},
       "color": {"field": "s", "type": "nominal", "scale": {"domain": ["1.2","1.6","0.8"], "range": ["#ef8a82", "#6ecdc4", "#4a90de"]}, "legend": null}
      }
     }
    ]
   },
   {
    "width": 257, "height": 256,
    "title": {"text": "C-i.", "dx": -72, "offset": -2},
    "resolve": {"axis": {"x": "independent", "y": "independent"}},
    "layer": [
     {
      "data": {"name": "ciFill"},
      "mark": {"type": "point", "filled": true, "size": 70, "opacity": 1},
      "encoding": {
       "x": {"field": "t", "type": "quantitative", "scale": {"domain": [0, 2000], "nice": false},
             "axis": {"orient": "bottom", "title": "time (min)", "values": [0,100,200,300,400,500,600,700,800,900,1000,1100,1200,1300,1400,1500,1600,1700,1800,1900,2000], "labelExpr": "abs(datum.value/400-round(datum.value/400))<1e-6 ? format(datum.value,'d') : ''", "encode": {"ticks": {"update": {"y2": {"signal": "abs(datum.value/400-round(datum.value/400))<1e-6 ? -5 : -2.5"}}}}}},
       "y": {"field": "c", "type": "quantitative", "scale": {"domain": [0, 1.6], "nice": false},
             "axis": {"orient": "left", "title": "[6b] (M)", "titlePadding": 8, "values": [0,0.1,0.2,0.3,0.4,0.5,0.6,0.7,0.8,0.9,1,1.1,1.2,1.3,1.4,1.5,1.6], "labelExpr": "abs(datum.value/0.4-round(datum.value/0.4))<1e-6 ? (datum.value==0 ? '0' : format(datum.value,'.1f')) : ''", "encode": {"ticks": {"update": {"x2": {"signal": "abs(datum.value/0.4-round(datum.value/0.4))<1e-6 ? 5 : 2.5"}}}}}},
       "fill": {"field": "s", "type": "nominal", "scale": {"domain": ["1.4","1.0","0.54","0.39","0.20"], "range": ["#45948d", "#c0102f", "#2c5aa8", "#5312d8", "#6cbf48"]},
             "legend": {"title": null, "orient": "top-right", "offset": 12, "padding": 10, "rowPadding": 8, "labelFontSize": 16, "labelColor": "#1e1e1e", "symbolSize": 70, "symbolStrokeWidth": 0, "symbolOffset": 6, "labelOffset": 11, "strokeColor": "#d0d0d0", "fillColor": "#ffffff", "cornerRadius": 4, "labelExpr": "'[6b]₀ = ' + datum.label + ' M'"}},
       "shape": {"field": "s", "type": "nominal", "scale": {"domain": ["1.4","1.0","0.54","0.39","0.20"], "range": ["square", "M0,-1L0.62,0L0,1L-0.62,0Z", "circle", "triangle-right", "circle"]},
             "legend": {"title": null, "orient": "top-right", "offset": 12, "padding": 10, "rowPadding": 8, "labelFontSize": 16, "labelColor": "#1e1e1e", "symbolSize": 70, "symbolStrokeWidth": 0, "symbolOffset": 6, "labelOffset": 11, "strokeColor": "#d0d0d0", "fillColor": "#ffffff", "cornerRadius": 4, "labelExpr": "'[6b]₀ = ' + datum.label + ' M'"}}
      }
     },
     {
      "data": {"name": "ciOpen"},
      "mark": {"type": "point", "filled": false, "strokeWidth": 1.3, "size": 70, "opacity": 1},
      "encoding": {
       "x": {"field": "t", "type": "quantitative", "axis": null},
       "y": {"field": "c", "type": "quantitative", "axis": null},
       "stroke": {"field": "s", "type": "nominal", "scale": {"domain": ["1.4","1.0","0.54","0.39","0.20"], "range": ["#45948d", "#c0102f", "#2c5aa8", "#5312d8", "#6cbf48"]}, "legend": null},
       "shape": {"field": "s", "type": "nominal", "legend": null}
      }
     },
     {
      "data": {"name": "ciFit"},
      "mark": {"type": "line", "strokeWidth": 1.6, "interpolate": "monotone"},
      "encoding": {
       "x": {"field": "t", "type": "quantitative",
             "axis": {"orient": "top", "title": null, "labels": false, "values": [0,100,200,300,400,500,600,700,800,900,1000,1100,1200,1300,1400,1500,1600,1700,1800,1900,2000], "encode": {"ticks": {"update": {"y2": {"signal": "abs(datum.value/400-round(datum.value/400))<1e-6 ? 5 : 2.5"}}}}}},
       "y": {"field": "c", "type": "quantitative",
             "axis": {"orient": "right", "title": null, "labels": false, "values": [0,0.1,0.2,0.3,0.4,0.5,0.6,0.7,0.8,0.9,1,1.1,1.2,1.3,1.4,1.5,1.6], "encode": {"ticks": {"update": {"x2": {"signal": "abs(datum.value/0.4-round(datum.value/0.4))<1e-6 ? -5 : -2.5"}}}}}},
       "color": {"field": "s", "type": "nominal", "scale": {"domain": ["1.4","1.0","0.54","0.39","0.20"], "range": ["#6ecdc4", "#ef8a82", "#4a90de", "#9a28f0", "#3a8a3a"]}, "legend": null}
      }
     }
    ]
   },
   {
    "width": 257, "height": 256,
    "title": {"text": "D.", "dx": -62, "offset": 8},
    "resolve": {"axis": {"x": "independent", "y": "independent"}},
    "layer": [
     {
      "data": {"name": "dOpen"},
      "mark": {"type": "point", "filled": false, "strokeWidth": 1.6, "size": 64, "color": "#c0102f", "shape": "circle", "opacity": 1},
      "encoding": {
       "x": {"field": "x", "type": "quantitative", "scale": {"domain": [0, 40], "nice": false},
             "axis": {"orient": "bottom", "title": "[Fe]ₜₒₜ (mM)", "values": [0,2,4,6,8,10,12,14,16,18,20,22,24,26,28,30,32,34,36,38,40], "labelExpr": "abs(datum.value/10-round(datum.value/10))<1e-6 ? format(datum.value,'.1f') : ''", "encode": {"ticks": {"update": {"y2": {"signal": "abs(datum.value/10-round(datum.value/10))<1e-6 ? -5 : -2.5"}}}}}},
       "y": {"field": "v", "type": "quantitative", "scale": {"domain": [0, 2.5], "nice": false},
             "axis": {"orient": "left", "title": "ν₀ = −d[6b]/dt (10⁻³ M min⁻¹)", "titleFontSize": 16, "titlePadding": 1, "values": [0,0.1,0.2,0.3,0.4,0.5,0.6,0.7,0.8,0.9,1,1.1,1.2,1.3,1.4,1.5,1.6,1.7,1.8,1.9,2,2.1,2.2,2.3,2.4,2.5], "labelExpr": "abs(datum.value/0.5-round(datum.value/0.5))<1e-6 ? (datum.value==0 ? '0' : format(datum.value,'.1f')) : ''", "encode": {"ticks": {"update": {"x2": {"signal": "abs(datum.value/0.5-round(datum.value/0.5))<1e-6 ? 5 : 2.5"}}}}}}
      }
     },
     {
      "data": {"name": "dFill"},
      "mark": {"type": "point", "filled": true, "size": 64, "color": "#c0102f", "shape": "circle", "opacity": 1},
      "encoding": {
       "x": {"field": "x", "type": "quantitative", "axis": null},
       "y": {"field": "v", "type": "quantitative", "axis": null}
      }
     },
     {
      "data": {"name": "dFit"},
      "mark": {"type": "rule", "color": "#111111", "strokeWidth": 2.4, "strokeDash": [0.1, 5], "strokeCap": "round"},
      "encoding": {
       "x": {"field": "x", "type": "quantitative",
             "axis": {"orient": "top", "title": null, "labels": false, "values": [0,2,4,6,8,10,12,14,16,18,20,22,24,26,28,30,32,34,36,38,40], "encode": {"ticks": {"update": {"y2": {"signal": "abs(datum.value/10-round(datum.value/10))<1e-6 ? 5 : 2.5"}}}}}},
       "x2": {"field": "x2"},
       "y": {"field": "v", "type": "quantitative",
             "axis": {"orient": "right", "title": null, "labels": false, "values": [0,0.1,0.2,0.3,0.4,0.5,0.6,0.7,0.8,0.9,1,1.1,1.2,1.3,1.4,1.5,1.6,1.7,1.8,1.9,2,2.1,2.2,2.3,2.4,2.5], "encode": {"ticks": {"update": {"x2": {"signal": "abs(datum.value/0.5-round(datum.value/0.5))<1e-6 ? -5 : -2.5"}}}}}},
       "y2": {"field": "v2"}
      }
     },
     {
      "data": {"name": "dTxt"},
      "mark": {"type": "text", "align": "left", "baseline": "middle", "fontSize": 17, "color": "#111111"},
      "encoding": {"x": {"field": "x", "type": "quantitative", "axis": null}, "y": {"field": "v", "type": "quantitative", "axis": null}, "text": {"field": "txt"}}
     },
     {
      "data": {"name": "dTxtI"},
      "mark": {"type": "text", "align": "left", "baseline": "middle", "fontSize": 17, "fontStyle": "italic", "color": "#111111"},
      "encoding": {"x": {"field": "x", "type": "quantitative", "axis": null}, "y": {"field": "v", "type": "quantitative", "axis": null}, "text": {"field": "txt"}}
     },
     {
      "data": {"name": "dTxtS"},
      "mark": {"type": "text", "align": "left", "baseline": "middle", "fontSize": 12, "color": "#111111"},
      "encoding": {"x": {"field": "x", "type": "quantitative", "axis": null}, "y": {"field": "v", "type": "quantitative", "axis": null}, "text": {"field": "txt"}}
     }
    ]
   },
   {
    "width": 257, "height": 256,
    "title": {"text": "B-ii.", "dx": -73, "offset": 8},
    "resolve": {"axis": {"x": "independent", "y": "independent"}},
    "layer": [
     {
      "data": {"name": "b2Open"},
      "mark": {"type": "point", "filled": false, "strokeWidth": 1.6, "size": 52, "color": "#c0102f", "shape": "circle", "opacity": 1},
      "encoding": {
       "x": {"field": "x", "type": "quantitative", "scale": {"domain": [0, 2], "nice": false},
             "axis": {"orient": "bottom", "title": "[13j]₀ (M)", "values": [0,0.1,0.2,0.3,0.4,0.5,0.6,0.7,0.8,0.9,1,1.1,1.2,1.3,1.4,1.5,1.6,1.7,1.8,1.9,2], "labelExpr": "abs(datum.value/0.5-round(datum.value/0.5))<1e-6 ? format(datum.value,'.1f') : ''", "encode": {"ticks": {"update": {"y2": {"signal": "abs(datum.value/0.5-round(datum.value/0.5))<1e-6 ? -5 : -2.5"}}}}}},
       "y": {"field": "v", "type": "quantitative", "scale": {"domain": [0, 2.5], "nice": false},
             "axis": {"orient": "left", "title": "ν₀ = −d[6b]/dt (10⁻³ M min⁻¹)", "titleFontSize": 16, "titlePadding": 1, "values": [0,0.1,0.2,0.3,0.4,0.5,0.6,0.7,0.8,0.9,1,1.1,1.2,1.3,1.4,1.5,1.6,1.7,1.8,1.9,2,2.1,2.2,2.3,2.4,2.5], "labelExpr": "abs(datum.value/0.5-round(datum.value/0.5))<1e-6 ? (datum.value==0 ? '0' : format(datum.value,'.1f')) : ''", "encode": {"ticks": {"update": {"x2": {"signal": "abs(datum.value/0.5-round(datum.value/0.5))<1e-6 ? 5 : 2.5"}}}}}}
      }
     },
     {
      "data": {"name": "b2Fill"},
      "mark": {"type": "point", "filled": true, "size": 52, "color": "#c0102f", "shape": "circle", "opacity": 1},
      "encoding": {
       "x": {"field": "x", "type": "quantitative", "axis": null},
       "y": {"field": "v", "type": "quantitative", "axis": null}
      }
     },
     {
      "data": {"name": "b2Fit"},
      "mark": {"type": "rule", "color": "#111111", "strokeWidth": 2.4, "strokeDash": [0.1, 5], "strokeCap": "round"},
      "encoding": {
       "x": {"field": "x", "type": "quantitative",
             "axis": {"orient": "top", "title": null, "labels": false, "values": [0,0.1,0.2,0.3,0.4,0.5,0.6,0.7,0.8,0.9,1,1.1,1.2,1.3,1.4,1.5,1.6,1.7,1.8,1.9,2], "encode": {"ticks": {"update": {"y2": {"signal": "abs(datum.value/0.5-round(datum.value/0.5))<1e-6 ? 5 : 2.5"}}}}}},
       "x2": {"field": "x2"},
       "y": {"field": "v", "type": "quantitative",
             "axis": {"orient": "right", "title": null, "labels": false, "values": [0,0.1,0.2,0.3,0.4,0.5,0.6,0.7,0.8,0.9,1,1.1,1.2,1.3,1.4,1.5,1.6,1.7,1.8,1.9,2,2.1,2.2,2.3,2.4,2.5], "encode": {"ticks": {"update": {"x2": {"signal": "abs(datum.value/0.5-round(datum.value/0.5))<1e-6 ? -5 : -2.5"}}}}}},
       "y2": {"field": "v2"}
      }
     },
     {
      "data": {"name": "b2Txt"},
      "mark": {"type": "text", "align": "left", "baseline": "middle", "fontSize": 17, "color": "#111111"},
      "encoding": {"x": {"field": "x", "type": "quantitative", "axis": null}, "y": {"field": "v", "type": "quantitative", "axis": null}, "text": {"field": "txt"}}
     },
     {
      "data": {"name": "b2TxtI"},
      "mark": {"type": "text", "align": "left", "baseline": "middle", "fontSize": 17, "fontStyle": "italic", "color": "#111111"},
      "encoding": {"x": {"field": "x", "type": "quantitative", "axis": null}, "y": {"field": "v", "type": "quantitative", "axis": null}, "text": {"field": "txt"}}
     },
     {
      "data": {"name": "b2TxtS"},
      "mark": {"type": "text", "align": "left", "baseline": "middle", "fontSize": 12, "color": "#111111"},
      "encoding": {"x": {"field": "x", "type": "quantitative", "axis": null}, "y": {"field": "v", "type": "quantitative", "axis": null}, "text": {"field": "txt"}}
     },
     {
      "data": {"name": "b2TxtB"},
      "mark": {"type": "text", "align": "left", "baseline": "middle", "fontSize": 17, "fontWeight": "bold", "color": "#111111"},
      "encoding": {"x": {"field": "x", "type": "quantitative", "axis": null}, "y": {"field": "v", "type": "quantitative", "axis": null}, "text": {"field": "txt"}}
     }
    ]
   },
   {
    "width": 257, "height": 256,
    "title": {"text": "C-ii.", "dx": -68, "offset": 8},
    "resolve": {"axis": {"x": "independent", "y": "independent"}},
    "layer": [
     {
      "data": {"name": "c2Open"},
      "mark": {"type": "point", "filled": false, "strokeWidth": 1.6, "size": 56, "color": "#c0102f", "shape": "circle", "opacity": 1},
      "encoding": {
       "x": {"field": "x", "type": "quantitative", "scale": {"domain": [0, 2], "nice": false},
             "axis": {"orient": "bottom", "title": "[6b]₀ (M)", "values": [0,0.1,0.2,0.3,0.4,0.5,0.6,0.7,0.8,0.9,1,1.1,1.2,1.3,1.4,1.5,1.6,1.7,1.8,1.9,2], "labelExpr": "abs(datum.value/0.5-round(datum.value/0.5))<1e-6 ? format(datum.value,'.1f') : ''", "encode": {"ticks": {"update": {"y2": {"signal": "abs(datum.value/0.5-round(datum.value/0.5))<1e-6 ? -5 : -2.5"}}}}}},
       "y": {"field": "v", "type": "quantitative", "scale": {"domain": [0, 2.5], "nice": false},
             "axis": {"orient": "left", "title": "ν₀ = −d[6b]/dt (10⁻³ M min⁻¹)", "titleFontSize": 16, "titlePadding": 1, "values": [0,0.1,0.2,0.3,0.4,0.5,0.6,0.7,0.8,0.9,1,1.1,1.2,1.3,1.4,1.5,1.6,1.7,1.8,1.9,2,2.1,2.2,2.3,2.4,2.5], "labelExpr": "abs(datum.value/0.5-round(datum.value/0.5))<1e-6 ? (datum.value==0 ? '0' : format(datum.value,'.1f')) : ''", "encode": {"ticks": {"update": {"x2": {"signal": "abs(datum.value/0.5-round(datum.value/0.5))<1e-6 ? 5 : 2.5"}}}}}}
      }
     },
     {
      "data": {"name": "c2Fill"},
      "mark": {"type": "point", "filled": true, "size": 56, "color": "#c0102f", "shape": "circle", "opacity": 1},
      "encoding": {
       "x": {"field": "x", "type": "quantitative",
             "axis": {"orient": "top", "title": null, "labels": false, "values": [0,0.1,0.2,0.3,0.4,0.5,0.6,0.7,0.8,0.9,1,1.1,1.2,1.3,1.4,1.5,1.6,1.7,1.8,1.9,2], "encode": {"ticks": {"update": {"y2": {"signal": "abs(datum.value/0.5-round(datum.value/0.5))<1e-6 ? 5 : 2.5"}}}}}},
       "y": {"field": "v", "type": "quantitative",
             "axis": {"orient": "right", "title": null, "labels": false, "values": [0,0.1,0.2,0.3,0.4,0.5,0.6,0.7,0.8,0.9,1,1.1,1.2,1.3,1.4,1.5,1.6,1.7,1.8,1.9,2,2.1,2.2,2.3,2.4,2.5], "encode": {"ticks": {"update": {"x2": {"signal": "abs(datum.value/0.5-round(datum.value/0.5))<1e-6 ? -5 : -2.5"}}}}}}
      }
     }
    ]
   }
]
}
